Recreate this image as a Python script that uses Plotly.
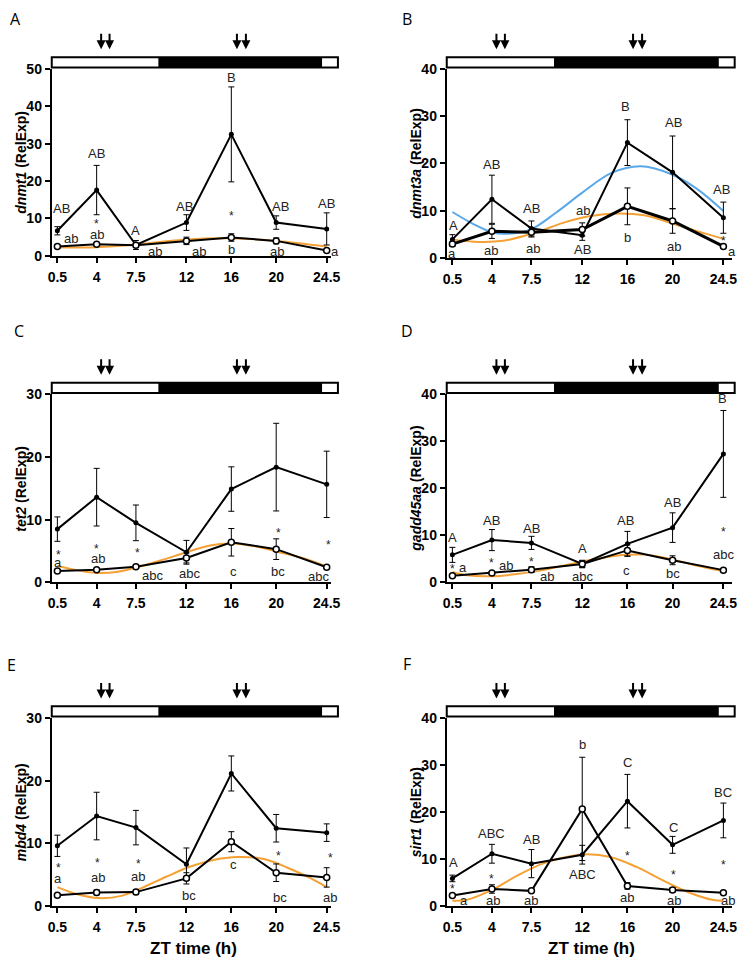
import plotly.graph_objects as go

W, H = 746, 967
ZT = [0.5, 4, 7.5, 12, 16, 20, 24.5]
tick_text = ['0.5', '4', '7.5', '12', '16', '20', '24.5']

# ---------------- data ----------------
# A dnmt1
a_s1 = [6.7, 17.6, 2.9, 8.9, 32.5, 8.9, 7.2]
a_s1_err = [1.1, 6.6, 1.2, 2.1, 12.7, 1.8, 4.3]
a_s2 = [2.5, 3.1, 2.8, 4.0, 4.9, 4.0, 1.4]
a_s2_err = [0.4, 0.3, 0.5, 1.0, 1.0, 0.8, 0.3]
a_fit_x = [0.5, 4, 7.5, 12, 16, 20, 24.5]
a_fit_y = [2.3, 2.3, 3.0, 4.4, 4.7, 4.0, 2.5]

# B dnmt3a
b_s1 = [3.9, 12.4, 6.2, 4.8, 24.4, 18.1, 8.5]
b_s1_err = [1.0, 5.1, 1.6, 1.1, 4.85, 7.7, 3.3]
b_s2 = [2.9, 5.6, 5.4, 6.0, 10.9, 7.8, 2.4]
b_s2_err = [0.5, 1.5, 1.0, 1.4, 3.9, 2.6, 0.3]
b_fit_x = [0.5, 2.4, 5.0, 7.8, 10.3, 12.6, 15.2, 17.5, 19.8, 22.1, 24.5]
b_fit_y = [3.9, 3.4, 3.6, 5.3, 7.4, 8.8, 9.4, 9.0, 7.4, 5.7, 4.0]
b_fit2_x = [0.5, 2.4, 4.15, 5.3, 7.35, 9.7, 12.0, 14.6, 17.2, 19.8, 22.1, 24.5]
b_fit2_y = [9.7, 7.1, 5.3, 5.1, 5.9, 9.6, 13.8, 18.0, 19.4, 17.8, 14.7, 9.9]

# C tet2
c_s1 = [8.5, 13.6, 9.5, 4.8, 14.9, 18.4, 15.65]
c_s1_err = [1.95, 4.6, 2.85, 1.9, 3.55, 7.0, 5.3]
c_s2 = [1.8, 2.0, 2.5, 3.9, 6.4, 5.3, 2.4]
c_s2_err = [0.2, 0.2, 0.2, 0.8, 2.2, 1.65, 0.2]
c_fit_x = [0.5, 2.2, 4.0, 5.9, 7.5, 9.7, 12.0, 14.1, 16.1, 18.1, 20.1, 22.5, 24.5]
c_fit_y = [2.6, 1.95, 1.5, 1.7, 2.35, 3.5, 4.8, 5.9, 6.2, 5.75, 4.9, 3.8, 2.5]

# D gadd45aa
d_s1 = [5.85, 9.0, 8.4, 3.9, 8.2, 11.65, 27.35]
d_s1_err = [1.6, 2.25, 1.4, 0.7, 2.65, 3.15, 9.25]
d_s2 = [1.4, 2.0, 2.7, 3.9, 6.8, 4.7, 2.6]
d_s2_err = [0.2, 0.3, 0.6, 0.8, 1.2, 0.95, 0.2]
d_fit_x = [0.5, 1.8, 4.0, 6.2, 8.5, 10.8, 13.1, 15.5, 17.5, 19.8, 22.1, 24.5]
d_fit_y = [2.2, 1.5, 1.3, 1.75, 2.6, 3.8, 4.9, 5.8, 5.9, 5.0, 3.6, 2.4]

# E mbd4
e_s1 = [9.6, 14.35, 12.5, 6.65, 21.15, 12.4, 11.7]
e_s1_err = [1.7, 3.8, 2.75, 2.6, 2.8, 2.2, 1.4]
e_s2 = [1.7, 2.15, 2.2, 4.4, 10.25, 5.3, 4.55]
e_s2_err = [0.2, 0.4, 0.4, 0.9, 1.6, 1.4, 1.55]
e_fit_x = [0.5, 2.2, 4.2, 6.2, 8.2, 10.2, 12.3, 14.3, 16.6, 19.0, 21.0, 23.1, 24.5]
e_fit_y = [3.0, 1.9, 1.25, 1.6, 3.0, 4.65, 6.25, 7.3, 7.8, 7.45, 6.1, 4.4, 3.0]

# F sirt1
f_s1 = [5.85, 11.1, 9.0, 10.9, 22.3, 13.0, 18.2]
f_s1_err = [0.7, 2.0, 3.0, 2.0, 5.7, 1.8, 3.7]
f_s2 = [2.2, 3.6, 3.2, 20.65, 4.25, 3.4, 2.8]
f_s2_err = [0.2, 0.9, 0.2, 11.0, 0.7, 0.5, 0.2]
f_fit_x = [0.5, 1.8, 4.0, 6.2, 8.5, 10.8, 12.5, 14.5, 16.8, 19.1, 21.4, 23.5, 24.5]
f_fit_y = [1.1, 1.3, 3.4, 6.4, 9.0, 10.5, 11.0, 10.4, 8.3, 5.5, 2.9, 1.3, 1.1]

# significance / group labels: (ZT, value, text)
a_labels = [(0.85, 12.6, 'AB'), (1.7, 4.7, 'ab'), (4.0, 27.5, 'AB'), (4.0, 9.2, '*'), (4.0, 5.6, 'ab'),
            (7.5, 6.7, 'A'), (9.2, 1.2, 'ab'), (11.8, 13.2, 'AB'), (13.1, 1.2, 'ab'), (16.05, 47.6, 'B'),
            (16.0, 11.5, '*'), (16.0, 1.7, 'b'), (20.4, 13.2, 'AB'), (20.1, 1.1, 'ab'), (24.5, 13.9, 'AB'),
            (25.2, 1.2, 'a')]
b_labels = [(0.6, 6.9, 'A'), (0.47, 1.0, 'a'), (3.95, 19.8, 'AB'), (3.9, 1.5, 'ab'), (7.5, 10.5, 'AB'),
            (7.6, 1.9, 'ab'), (12.05, 10.0, 'ab'), (12.0, 1.75, 'AB'), (15.85, 32.1, 'B'), (16.05, 4.3, 'b'),
            (20.1, 28.6, 'AB'), (20.1, 2.4, 'ab'), (24.3, 14.4, 'AB'), (24.5, 4.2, '*'), (25.3, 1.3, 'a')]
c_labels = [(0.56, 4.9, '*'), (0.56, 3.2, 'a'), (4.0, 5.8, '*'), (4.15, 3.8, 'ab'), (7.6, 5.2, '*'),
            (9.0, 1.05, 'abc'), (12.3, 1.4, 'abc'), (16.2, 1.7, 'c'), (20.2, 8.4, '*'), (20.2, 1.8, 'bc'),
            (24.7, 6.5, '*'), (23.8, 1.0, 'abc')]
d_labels = [(0.47, 9.6, 'A'), (0.5, 3.4, '*'), (1.4, 3.1, 'a'), (4.0, 13.2, 'AB'), (4.0, 4.8, '*'),
            (5.26, 3.6, 'ab'), (7.5, 11.5, 'AB'), (7.5, 4.9, '*'), (8.85, 1.3, 'ab'), (12.0, 7.1, 'A'),
            (12.0, 1.3, 'abc'), (15.8, 13.2, 'AB'), (15.96, 2.6, 'c'), (19.96, 16.9, 'AB'), (20.0, 1.9, 'bc'),
            (24.46, 39.2, 'B'), (24.5, 11.45, '*'), (24.5, 5.9, 'abc')]
e_labels = [(0.56, 6.6, '*'), (0.56, 4.3, 'a'), (4.1, 7.4, '*'), (4.1, 4.5, 'ab'), (7.7, 7.2, '*'),
            (7.7, 4.75, 'ab'), (12.2, 1.6, 'bc'), (16.2, 6.6, 'c'), (20.2, 8.5, '*'), (20.3, 1.4, 'bc'),
            (24.8, 8.05, '*'), (24.8, 1.4, 'ab')]
f_labels = [(0.6, 9.2, 'A'), (0.5, 4.3, '*'), (1.55, 1.1, 'a'), (4.0, 15.5, 'ABC'), (4.0, 6.4, '*'),
            (4.1, 1.1, 'ab'), (7.5, 14.2, 'AB'), (7.5, 1.1, 'ab'), (12.0, 34.3, 'b'), (12.0, 6.6, 'ABC'),
            (16.0, 30.6, 'C'), (16.0, 11.3, '*'), (16.0, 1.7, 'ab'), (20.1, 16.8, 'C'), (20.1, 7.3, '*'),
            (20.1, 1.1, 'ab'), (24.5, 24.2, 'BC'), (24.5, 9.35, '*'), (24.9, 1.1, 'ab')]

arrow_times = [4.4, 5.15, 16.5, 17.3]
phase_edges = [0, 9.5, 24.1, 25.5]
phase_fill = ['white', 'black', 'white']

ORANGE = '#F5A034'
BLUE = '#5AA8E8'

panels = [
    dict(letter='A', gene='dnmt1', ymax=50, s1=a_s1, e1=a_s1_err, s2=a_s2, e2=a_s2_err,
         fits=[(a_fit_x, a_fit_y, ORANGE)], labels=a_labels, geo=(48.6, 333, 62, 252, 24.9), w2=2,
         lpos=(12, 11)),
    dict(letter='B', gene='dnmt3a', ymax=40, s1=b_s1, e1=b_s1_err, s2=b_s2, e2=b_s2_err,
         fits=[(b_fit_x, b_fit_y, ORANGE), (b_fit2_x, b_fit2_y, BLUE)], labels=b_labels,
         geo=(450.6, 741, 62, 254, 25.27), w2=3, lpos=(410, 11)),
    dict(letter='C', gene='tet2', ymax=30, s1=c_s1, e1=c_s1_err, s2=c_s2, e2=c_s2_err,
         fits=[(c_fit_x, c_fit_y, ORANGE)], labels=c_labels, geo=(48.6, 333, 393, 584, 24.9), w2=2,
         lpos=(15, 328)),
    dict(letter='D', gene='gadd45aa', ymax=40, s1=d_s1, e1=d_s1_err, s2=d_s2, e2=d_s2_err,
         fits=[(d_fit_x, d_fit_y, ORANGE)], labels=d_labels, geo=(450.6, 741, 393, 584, 25.27), w2=2,
         lpos=(410, 328)),
    dict(letter='E', gene='mbd4', ymax=30, s1=e_s1, e1=e_s1_err, s2=e_s2, e2=e_s2_err,
         fits=[(e_fit_x, e_fit_y, ORANGE)], labels=e_labels, geo=(48.6, 333, 722, 913, 24.9), w2=2,
         lpos=(8, 668)),
    dict(letter='F', gene='sirt1', ymax=40, s1=f_s1, e1=f_s1_err, s2=f_s2, e2=f_s2_err,
         fits=[(f_fit_x, f_fit_y, ORANGE)], labels=f_labels, geo=(450.6, 741, 722, 913, 25.27), w2=2,
         lpos=(410, 667)),
]

FONT = 'Liberation Sans, Arial, sans-serif'
fig = go.Figure()
layout = dict(width=W, height=H, margin=dict(l=0, r=0, t=0, b=0, pad=0), autosize=False,
              paper_bgcolor='white', plot_bgcolor='white', showlegend=False,
              font=dict(family=FONT, color='black'))
shapes, annotations = [], []

for i, p in enumerate(panels):
    n = '' if i == 0 else str(i + 1)
    xr, yr = 'x' + n, 'y' + n
    x0, x1, yt, yb, xmax = p['geo']
    layout['xaxis' + n] = dict(domain=[x0 / W, x1 / W], range=[0, xmax], anchor=yr,
                               tickvals=ZT, ticktext=tick_text, ticks='outside', ticklen=5, tickwidth=2,
                               tickcolor='black', showline=True, linewidth=2, linecolor='black',
                               showgrid=False, zeroline=False, ticklabelstandoff=2,
                               tickfont=dict(size=14, family=FONT, weight='bold', color='black'))
    layout['yaxis' + n] = dict(domain=[1 - yb / H, 1 - yt / H], range=[0, p['ymax']], anchor=xr,
                               dtick=10, ticks='outside', ticklen=5, tickwidth=2, tickcolor='black',
                               showline=True, linewidth=2, linecolor='black', showgrid=False,
                               zeroline=False,
                               tickfont=dict(size=14, family=FONT, weight='bold', color='black'))
    for fx, fy, col in p['fits']:
        fig.add_trace(go.Scatter(x=fx, y=fy, mode='lines', xaxis=xr, yaxis=yr, hoverinfo='skip',
                                 line=dict(color=col, width=2, shape='spline', smoothing=1.0)))
    fig.add_trace(go.Scatter(x=ZT, y=p['s1'], mode='lines+markers', xaxis=xr, yaxis=yr, cliponaxis=False,
                             line=dict(color='black', width=2), marker=dict(size=5, color='black'),
                             error_y=dict(type='data', array=p['e1'], color='black', thickness=1, width=3)))
    fig.add_trace(go.Scatter(x=ZT, y=p['s2'], mode='lines+markers', xaxis=xr, yaxis=yr, cliponaxis=False,
                             line=dict(color='black', width=p['w2']),
                             marker=dict(size=6, color='white', line=dict(color='black', width=1.5)),
                             error_y=dict(type='data', array=p['e2'], color='black', thickness=1, width=3)))

    scale = (x1 - x0) / xmax

    def xp(v):
        return (x0 + v * scale) / W

    # light/dark bar
    bt, bb = yt - 12, yt - 1.5
    for k in range(len(phase_fill)):
        shapes.append(dict(type='rect', xref='paper', yref='paper', x0=xp(phase_edges[k]),
                           x1=xp(phase_edges[k + 1]), y0=1 - bb / H, y1=1 - bt / H,
                           fillcolor=phase_fill[k], line=dict(width=0)))
    shapes.append(dict(type='rect', xref='paper', yref='paper', x0=xp(phase_edges[0]), x1=xp(phase_edges[-1]),
                       y0=1 - bb / H, y1=1 - bt / H, line=dict(color='black', width=2)))
    # arrows
    for t in arrow_times:
        annotations.append(dict(x=t, y=1 - (bt - 8) / H, xref=xr, yref='paper', text='', showarrow=True,
                                ax=0, ay=-17, arrowhead=2, arrowsize=0.9, arrowwidth=2, arrowcolor='black'))
    # labels
    for lx, ly, txt in p['labels']:
        ann = dict(text=txt, showarrow=False, font=dict(size=13, family=FONT, color='#222'),
                   xanchor='center', yanchor='middle')
        ann['x'] = xp(lx)
        ann['xref'] = 'paper'
        ann['y'] = ly
        ann['yref'] = yr
        if txt == '*':
            ann['yshift'] = -3
            ann['font'] = dict(size=12, family=FONT, color='#222')
        annotations.append(ann)
    # y title
    annotations.append(dict(text='<b><i>%s</i> (RelExp)</b>' % p['gene'], textangle=-90, showarrow=False,
                            xref='paper', yref='paper', x=(x0 - 31) / W, y=1 - (yt + yb) / 2 / H,
                            xanchor='center', yanchor='middle', font=dict(size=14, family=FONT)))
    # panel letter
    annotations.append(dict(text=p['letter'], showarrow=False, xref='paper', yref='paper',
                            x=p['lpos'][0] / W, y=1 - p['lpos'][1] / H, xanchor='center', yanchor='middle',
                            font=dict(size=16, family='Open Sans, sans-serif')))
    if p['letter'] in ('E', 'F'):
        annotations.append(dict(text='<b>ZT time (h)</b>', showarrow=False, xref='paper', yref='paper',
                                x=(x0 + x1) / 2 / W + 0.003, y=1 - 956 / H, xanchor='center',
                                yanchor='middle', font=dict(size=17, family=FONT)))

layout['shapes'] = shapes
layout['annotations'] = annotations
fig.update_layout(**layout)
fig.write_html('out.html')
